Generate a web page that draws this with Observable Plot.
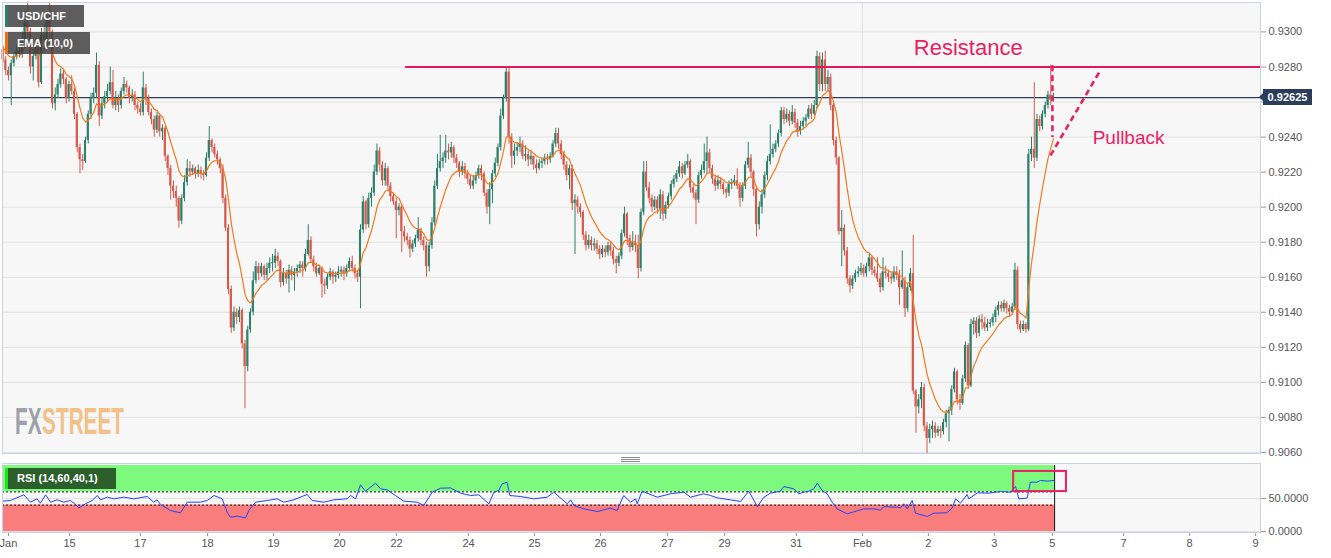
<!DOCTYPE html>
<html>
<head>
<meta charset="utf-8">
<script src="https://cdn.jsdelivr.net/npm/d3@7"></script>
<script src="https://cdn.jsdelivr.net/npm/@observablehq/plot@0.6"></script>
<style>
  body { margin: 0; background: #fff; font-family: "Liberation Sans", Arial, sans-serif; }
  #wrap { position: relative; width: 1331px; height: 558px; overflow: hidden; background: #fff; }
  #main, #rsi { position: absolute; left: 0; }
  #main { top: 0; }
  #rsi { top: 461px; }
  .tag { position: absolute; left: 5px; height: 22px; background: rgba(58,58,58,0.82); color: #fff;
         font-size: 11px; font-weight: bold; line-height: 22px; padding-left: 12px; box-sizing: border-box; }
  .tag i { position: absolute; left: 0; top: 0; width: 3px; height: 100%; }
  .handle { position: absolute; left: 621px; width: 19px; height: 1px; background: #8a8a8a; }
  #last { position: absolute; left: 1263px; width: 49px; height: 16px; background: #2c3d5b; color: #fff;
          font-size: 11px; font-weight: bold; line-height: 16px; text-align: center; }
  #last::before { content: ""; position: absolute; left: -4px; top: 4px; border-top: 4px solid transparent;
          border-bottom: 4px solid transparent; border-right: 4px solid #2c3d5b; }
</style>
</head>
<body>
<div id="wrap">
  <div id="main"></div>
  <div id="rsi"></div>
</div>
<script>
// ---------------- data (hourly USD/CHF, prices in pips: 9284 = 0.9284) ----------------
const firstOpen = 9290;
const closes = [
9284,9278,9275,9282,9286,9289,9287,9296,9305,9300,
9280,9286,9291,9271,9298,9295,9307,9300,9259,9264,
9270,9276,9273,9262,9270,9266,9253,9234,9227,9226,
9238,9253,9262,9265,9281,9252,9259,9263,9266,9271,
9258,9262,9258,9266,9270,9268,9262,9264,9258,9256,
9254,9268,9262,9254,9250,9244,9252,9243,9245,9229,
9222,9212,9209,9205,9192,9205,9214,9222,9220,9222,
9219,9221,9219,9218,9228,9238,9234,9230,9227,9222,
9205,9188,9153,9131,9140,9137,9141,9122,9109,9130,
9140,9158,9166,9162,9166,9161,9165,9168,9168,9172,
9169,9157,9162,9159,9164,9161,9163,9165,9167,9165,
9173,9181,9170,9166,9162,9165,9156,9155,9160,9163,
9160,9161,9163,9164,9162,9165,9169,9165,9162,9160,
9187,9203,9190,9205,9208,9220,9232,9224,9215,9222,
9212,9206,9203,9198,9200,9186,9183,9181,9176,9179,
9182,9187,9181,9178,9166,9178,9191,9212,9222,9226,
9228,9232,9231,9234,9228,9225,9220,9223,9219,9216,
9212,9215,9218,9222,9219,9208,9200,9210,9219,9225,
9234,9252,9262,9277,9240,9229,9232,9234,9236,9229,
9230,9227,9229,9224,9222,9225,9226,9228,9227,9229,
9236,9242,9236,9230,9224,9218,9222,9202,9204,9200,
9197,9184,9178,9181,9178,9179,9176,9173,9176,9174,
9178,9175,9170,9168,9172,9185,9196,9182,9177,9180,
9178,9165,9197,9220,9211,9205,9200,9204,9199,9207,
9196,9201,9206,9213,9216,9219,9223,9219,9224,9226,
9211,9208,9204,9218,9221,9226,9231,9222,9216,9212,
9215,9213,9210,9208,9213,9214,9215,9212,9205,9212,
9224,9228,9220,9210,9190,9200,9207,9218,9226,9230,
9233,9236,9242,9255,9250,9253,9249,9254,9248,9243,
9246,9249,9251,9256,9253,9258,9286,9270,9284,9270,
9274,9258,9238,9228,9186,9188,9175,9159,9155,9159,
9162,9163,9165,9162,9166,9171,9164,9162,9159,9154,
9163,9162,9160,9159,9163,9161,9154,9158,9142,9154,
9162,9095,9086,9090,9097,9075,9068,9073,9075,9071,
9073,9072,9077,9082,9084,9096,9106,9090,9088,9102,
9121,9098,9133,9135,9128,9136,9134,9131,9133,9134,
9137,9141,9144,9142,9145,9142,9140,9143,9164,9133,
9130,9133,9130,9230,9233,9228,9250,9246,9253,9258,
9264,9261,9262.5
];
const highs = [
9292,9286,9280,9284,9288,9292,9294,9300,9312,9317,
9302,9290,9296,9293,9302,9304,9310,9317,9301,9268,
9273,9279,9278,9274,9272,9275,9268,9254,9236,9230,
9240,9255,9265,9268,9288,9283,9262,9266,9270,9280,
9278,9266,9264,9268,9274,9272,9269,9267,9266,9260,
9259,9277,9270,9264,9256,9252,9254,9253,9247,9246,
9230,9224,9215,9212,9206,9207,9218,9227,9226,9224,
9223,9224,9223,9221,9231,9246,9239,9236,9232,9228,
9224,9207,9190,9155,9143,9142,9143,9142,9124,9132,
9142,9163,9169,9168,9168,9167,9168,9171,9173,9176,
9174,9170,9165,9164,9167,9166,9165,9167,9169,9169,
9176,9190,9183,9172,9168,9167,9166,9159,9162,9165,
9164,9163,9166,9166,9166,9167,9171,9172,9167,9164,
9190,9206,9204,9208,9211,9224,9236,9234,9226,9225,
9223,9214,9208,9205,9202,9201,9189,9185,9183,9181,
9184,9194,9188,9183,9180,9180,9194,9215,9230,9241,
9231,9241,9236,9237,9235,9230,9226,9226,9225,9221,
9218,9218,9220,9224,9224,9220,9210,9214,9221,9228,
9236,9256,9264,9280,9280,9242,9236,9237,9240,9238,
9235,9232,9232,9229,9227,9227,9228,9230,9230,9231,
9238,9245,9245,9238,9232,9226,9224,9224,9207,9206,
9202,9198,9186,9184,9183,9182,9181,9178,9178,9178,
9180,9180,9177,9172,9174,9187,9200,9197,9184,9186,
9184,9184,9199,9226,9226,9214,9207,9206,9206,9210,
9209,9203,9208,9215,9218,9221,9226,9225,9226,9230,
9227,9213,9210,9220,9224,9236,9240,9233,9224,9218,
9218,9217,9214,9211,9215,9216,9218,9222,9214,9214,
9226,9237,9230,9221,9212,9203,9210,9220,9229,9247,
9236,9238,9244,9257,9257,9256,9255,9258,9256,9250,
9249,9251,9253,9258,9259,9261,9289,9288,9288,9289,
9278,9276,9260,9240,9229,9198,9190,9177,9161,9161,
9164,9166,9168,9167,9168,9173,9172,9166,9171,9162,
9171,9166,9164,9162,9166,9166,9164,9175,9160,9156,
9165,9184,9096,9093,9100,9099,9077,9076,9078,9077,
9075,9075,9079,9084,9086,9098,9108,9107,9093,9104,
9123,9122,9136,9137,9137,9138,9139,9137,9136,9136,
9139,9143,9146,9146,9147,9146,9144,9145,9168,9166,
9135,9135,9134,9233,9240,9271,9253,9252,9255,9260,
9266,9281,9265
];
const lows = [
9282,9275,9272,9258,9280,9284,9285,9285,9294,9296,
9276,9272,9284,9268,9270,9290,9292,9296,9256,9255,
9262,9268,9270,9259,9260,9264,9250,9231,9219,9221,
9225,9236,9250,9259,9262,9246,9250,9256,9260,9264,
9256,9255,9254,9256,9264,9265,9259,9260,9255,9253,
9252,9252,9258,9252,9247,9240,9242,9240,9238,9226,
9218,9204,9205,9200,9188,9190,9203,9212,9217,9218,
9216,9217,9216,9215,9217,9226,9231,9228,9224,9219,
9202,9186,9150,9128,9129,9133,9134,9119,9085,9106,
9128,9138,9156,9158,9160,9158,9158,9162,9163,9165,
9166,9154,9155,9156,9151,9158,9152,9160,9162,9160,
9163,9172,9168,9163,9160,9161,9148,9150,9153,9158,
9156,9157,9159,9160,9158,9160,9163,9163,9159,9157,
9142,9185,9187,9188,9200,9206,9218,9220,9212,9212,
9209,9203,9201,9182,9195,9174,9180,9178,9171,9174,
9177,9180,9178,9175,9160,9163,9176,9189,9210,9220,
9222,9225,9227,9228,9225,9222,9217,9218,9216,9213,
9210,9210,9213,9216,9215,9206,9196,9190,9202,9217,
9223,9232,9250,9260,9236,9222,9224,9229,9231,9227,
9226,9223,9224,9221,9219,9221,9222,9224,9224,9225,
9228,9234,9233,9227,9221,9215,9210,9198,9173,9196,
9194,9181,9175,9176,9175,9175,9173,9170,9171,9171,
9172,9172,9167,9162,9166,9170,9183,9178,9174,9175,
9174,9159,9163,9195,9209,9202,9197,9198,9196,9193,
9192,9193,9199,9204,9211,9214,9217,9216,9218,9222,
9208,9205,9190,9202,9216,9219,9219,9219,9213,9209,
9210,9210,9207,9205,9206,9210,9212,9210,9200,9203,
9210,9222,9217,9206,9183,9187,9196,9205,9215,9224,
9228,9231,9234,9240,9247,9248,9246,9247,9245,9240,
9241,9244,9246,9250,9250,9252,9256,9266,9266,9266,
9266,9255,9235,9224,9184,9166,9172,9156,9151,9153,
9157,9160,9161,9160,9160,9163,9161,9160,9157,9151,
9152,9159,9157,9156,9157,9158,9144,9153,9137,9140,
9152,9093,9071,9082,9085,9072,9059,9065,9068,9068,
9069,9068,9070,9074,9066,9081,9094,9087,9084,9087,
9100,9096,9097,9127,9125,9126,9130,9129,9129,9131,
9132,9134,9138,9140,9140,9139,9137,9139,9141,9130,
9128,9129,9128,9129,9226,9222,9226,9243,9244,9251,
9256,9258,9260
];
const emaSeed = 9293;            // EMA (10) value at the left edge
const emaPeriod = 10;
const lastPrice = 0.92625;
const resistance = 0.9280;
const resistanceFromBar = 146.4;

// RSI (14): bar position and value
const rsiAt = [0,2.7,7.6,10,12.4,13.6,15.5,17.3,19.7,22.1,24.5,25.8,27.6,30,32.4,34.3,35.5,37.9,40.3,43.9,
47.6,52.4,54.8,56,57.3,60.9,64.5,67,71.8,74.3,76.7,79.7,81.5,82.7,85.2,88.2,89.4,91.8,96.1,99.7,
102.1,105.7,110.6,112.4,116.7,120.3,125.2,126.4,128.2,130,131.8,135.5,137.3,139.7,142.7,145.7,150.6,153,156.1,159.1,
162.7,166.4,170,173,176.7,178.5,180.3,181.5,183.3,184.3,188.2,193,197.9,200.3,205.2,206.4,207.6,211.2,216.1,220.9,
223.3,225.7,228.2,230,230.6,232.4,237.9,242.7,247.6,250,254.8,257.3,259.7,264.5,268.2,271.2,274.3,276.7,279.1,282.7,
283.9,287.6,289.4,291.2,293,294.8,296.1,297.9,299.7,301.5,303.3,307,309.4,313,316.7,319.1,320.3,322.7,325.2,326.4,
327.6,328.8,330.6,331.8,336.1,338.5,343.2,345.2,346.4,348.2,350.6,351.2,354.4,358.3,362.7,366.4,368.2,369.4,372.4,373.6,
376,377.3,379.7,382];
const rsiVal = [46,47,55.6,44.4,49.5,42.9,55.6,44.4,48,44.4,47,42.9,35.9,41.9,47,54.5,48,52,49.5,52,
49.5,53,44.4,48,40.9,31.8,28.3,44.4,44.4,47,54.5,49.5,29.3,21.7,23.2,20.7,31.8,44.4,47,49.5,
44.4,48,56.1,47,44.4,48,49.5,54.5,49.5,70.7,61.1,73.2,64.6,63.1,54.5,46,44.4,39.4,59.6,65.6,
66,58.1,54.5,55.6,41.9,59.6,62.1,72.2,74.7,54.5,53,49.5,52,59.6,41.9,48,39.4,34.3,30.3,35.4,
31.8,54.5,44.4,49.5,41.9,61.1,52,57.1,59.6,52,57.1,54.5,51,48,45.5,61.1,37.9,52,58.1,61.1,
68.2,64.6,57.1,59.6,61.1,64.6,73.2,62.1,57.1,44.4,34.3,26.8,29.8,34.3,34.3,32.3,37.9,36.9,36.9,35.9,
41.9,34.3,47,27.8,22.7,27.8,28.3,35.9,49.5,42.9,56.1,49.5,58.6,58.1,60.6,59.6,68.2,49.5,50.5,74.7,
74.7,77.3,76.3,77.3];
const rsiUpper = 60, rsiLower = 40;
const rsiBox = {from: 367.5, to: 386.7, lo: 60.5, hi: 91};

// axis ticks
const priceTicks = [0.9060,0.9080,0.9100,0.9120,0.9140,0.9160,0.9180,0.9200,0.9220,0.9240,0.9260,0.9280,0.9300];
const rsiTicks = [0, 50];
const dayTickAt   = [2, 24.2, 50, 74.4, 98.4, 122.4, 143.1, 169.3, 193.3, 217.3, 241.6, 262.4, 288.5, 312.5, 336.5, 360.5, 381.6, 407.5, 431.5, 455.5];
const dayTickText = ["Jan","15","17","18","19","20","22","24","25","26","27","29","31","Feb","2","3","5","7","8","9"];
const monthStartAt = 312.5;

// annotations
const notes = [
  {at: 351, price: 0.92906, text: "Resistance", size: 22},
  {at: 409.3, price: 0.92398, text: "Pullback", size: 19}
];
const pullbackLines = [
  {a1: 381.6, p1: 0.9281, a2: 381.6, p2: 0.9240},
  {a1: 380.9, p1: 0.92295, a2: 398.8, p2: 0.92775}
];

// ---------------- build tables ----------------
const GREEN = "#2e806a", RED = "#d8584a", PINK = "#e91e63";
const rows = closes.map((c, i) => {
  const o = (i === 0 ? firstOpen : closes[i - 1]) / 1e4;
  const cl = c / 1e4;
  let lo = Math.min(o, cl), hi = Math.max(o, cl);
  if (hi - lo < 0.00006) { const m = (hi + lo) / 2; lo = m - 0.00003; hi = m + 0.00003; }
  return {
    i, open: o, close: cl,
    high: Math.max(highs[i] / 1e4, o, cl),
    low: Math.min(lows[i] / 1e4, o, cl),
    bodyLo: lo, bodyHi: hi,
    color: cl >= o ? GREEN : RED
  };
});
const ema = [];
{
  const k = 2 / (emaPeriod + 1);
  let e = emaSeed / 1e4;
  rows.forEach((r) => { e = e + k * (r.close - e); ema.push({i: r.i, v: e}); });
}
const rsi = rsiAt.map((a, j) => ({i: a, v: rsiVal[j]}));
const lastBar = closes.length - 1;
const xDomain = [-0.18, 457.27];
const labelOf = new Map(dayTickAt.map((d, j) => [d, dayTickText[j]]));
// the last-price tag covers the tick label nearest to it
const fmt4 = d3.format(".4f");
const priceLabel = d => Math.abs(d - lastPrice) < 0.0005 ? "" : fmt4(d);

const font = "Liberation Sans, Arial, sans-serif";

// ---------------- main price panel ----------------
const main = Plot.plot({
  width: 1331, height: 460,
  marginLeft: 2, marginRight: 71, marginTop: 2, marginBottom: 7,
  style: {background: "transparent", fontFamily: font, fontSize: "11px", color: "#555"},
  x: {domain: xDomain, axis: null},
  y: {domain: [0.90594, 0.93168], axis: null},
  marks: [
    Plot.frame({fill: "#f7f7f7", stroke: "none"}),
    Plot.gridY(priceTicks, {stroke: "#e2e2e2", strokeOpacity: 1}),
    Plot.ruleX([monthStartAt], {stroke: "#e2e2e2"}),
    Plot.axisY(priceTicks, {anchor: "right", tickFormat: priceLabel, tickSize: 5, tickPadding: 3, stroke: "#999", fill: "#555"}),
    Plot.ruleY([lastPrice], {stroke: "#2c3d5b", strokeWidth: 1.2}),
    Plot.ruleX(rows, {x: "i", y1: "low", y2: "high", stroke: "color", strokeWidth: 1}),
    Plot.rect(rows, {x1: d => d.i - 0.38, x2: d => d.i + 0.38, y1: "bodyLo", y2: "bodyHi", fill: "color"}),
    Plot.line(ema, {x: "i", y: "v", stroke: "#f27a1e", strokeWidth: 1.2}),
    Plot.ruleY([{p: resistance, a1: resistanceFromBar, a2: xDomain[1]}], {y: "p", x1: "a1", x2: "a2", stroke: "#e8175d", strokeWidth: 2}),
    Plot.link(pullbackLines, {x1: "a1", y1: "p1", x2: "a2", y2: "p2", stroke: PINK, strokeWidth: 2.6, strokeDasharray: "6,4"}),
    Plot.text(notes, {x: "at", y: "price", text: "text", fontSize: "size", fill: PINK, textAnchor: "middle"}),
    Plot.frame({stroke: "#cbd1e3"})
  ]
});
document.getElementById("main").appendChild(main);

// watermark: two words laid side by side at natural width, then squeezed as a group
{
  const svg = d3.select(main);
  const g = svg.insert("g", ":scope > g:nth-of-type(3)")
    .attr("font-family", "Liberation Sans Narrow, Liberation Sans, Arial")
    .attr("font-weight", "bold").attr("font-size", 36).attr("text-anchor", "start");
  const fx = g.append("text").attr("x", 0).attr("y", 0).attr("text-anchor", "start").attr("fill", "#9da1a9").text("FX");
  const w1 = fx.node().getComputedTextLength();
  const st = g.append("text").attr("x", w1 + 1).attr("y", 0).attr("text-anchor", "start").attr("fill", "#f1c188").text("STREET");
  const w2 = st.node().getComputedTextLength();
  const sx = 109 / (w1 + 1 + w2);
  g.attr("transform", `translate(15,434) scale(${sx},1)`);
}

// ---------------- RSI panel ----------------
const bands = [
  {a1: xDomain[0], a2: lastBar + 0.4, lo: rsiUpper, hi: 100, fill: "#7dfa7d"},
  {a1: xDomain[0], a2: lastBar + 0.4, lo: 0, hi: rsiLower, fill: "#fa7d7d"}
];
const rsiPlot = Plot.plot({
  width: 1331, height: 97,
  marginLeft: 2, marginRight: 71, marginTop: 2, marginBottom: 26,
  style: {background: "transparent", fontFamily: font, fontSize: "11px", color: "#555"},
  x: {domain: xDomain, axis: null},
  y: {domain: [-1.5, 103], axis: null},
  marks: [
    Plot.frame({fill: "#f7f7f7", stroke: "none"}),
    Plot.gridY(rsiTicks, {stroke: "#e2e2e2", strokeOpacity: 1}),
    Plot.ruleX([monthStartAt], {stroke: "#e2e2e2"}),
    Plot.rect(bands, {x1: "a1", x2: "a2", y1: "lo", y2: "hi", fill: "fill"}),
    Plot.ruleY([rsiUpper, rsiLower], {x1: xDomain[0], x2: lastBar + 0.4, stroke: "#111", strokeDasharray: "2,2"}),
    Plot.ruleX([lastBar + 0.4], {y1: 0, y2: 100, stroke: "#111"}),
    Plot.line(rsi, {x: "i", y: "v", stroke: "#2443ff", strokeWidth: 1}),
    Plot.rect([rsiBox], {x1: "from", x2: "to", y1: "lo", y2: "hi", fill: "none", stroke: PINK, strokeWidth: 2}),
    Plot.axisY(rsiTicks, {anchor: "right", tickFormat: fmt4, tickSize: 5, tickPadding: 3, stroke: "#999", fill: "#555"}),
    Plot.axisX(dayTickAt, {anchor: "bottom", tickFormat: d => labelOf.get(d), tickSize: 4, tickPadding: 3, stroke: "#999", fill: "#555"}),
    Plot.frame({stroke: "#cbd1e3"})
  ]
});
document.getElementById("rsi").appendChild(rsiPlot);

// ---------------- overlays: legend tags, last price tag, panel handle ----------------
const wrap = document.getElementById("wrap");
function tag(text, top, width, color) {
  const d = document.createElement("div");
  d.className = "tag"; d.style.top = top + "px"; d.style.width = width + "px";
  d.innerHTML = `<i style="background:${color}"></i>`;
  d.appendChild(document.createTextNode(text));
  wrap.appendChild(d);
  return d;
}
tag("USD/CHF", 5, 79, GREEN);
tag("EMA (10,0)", 32, 85, "#f07010");
const rsiTag = tag("RSI (14,60,40,1)", 468, 111, "#19e619");
rsiTag.style.background = "rgba(40,86,40,0.95)";
rsiTag.style.height = "21px"; rsiTag.style.lineHeight = "21px";

const yLast = main.scale("y").apply(lastPrice);
const last = document.createElement("div");
last.id = "last"; last.style.top = (yLast - 8) + "px"; last.textContent = d3.format(".5f")(lastPrice);
wrap.appendChild(last);

[456.5, 458.8, 461.1].forEach(t => {
  const h = document.createElement("div"); h.className = "handle"; h.style.top = t + "px"; wrap.appendChild(h);
});
</script>
</body>
</html>
